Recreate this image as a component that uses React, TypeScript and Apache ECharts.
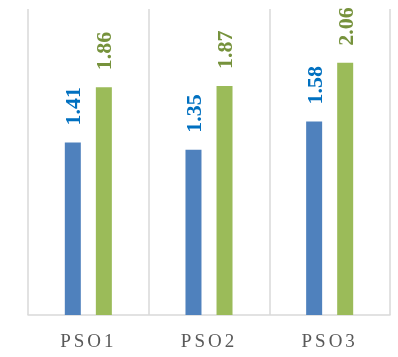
import React, { useEffect, useRef } from "react";
import * as echarts from "echarts";

const categories = ["PSO1", "PSO2", "PSO3"];
const seriesA = [1.41, 1.35, 1.58];
const seriesB = [1.86, 1.87, 2.06];

export default function App() {
  const ref = useRef<HTMLDivElement>(null);
  useEffect(() => {
    const chart = echarts.init(ref.current!, null, { renderer: "svg" });
    chart.setOption({
      animation: false,
      grid: { left: 28, right: 8, top: 9, bottom: 42 },
      xAxis: {
        type: "category",
        data: categories,
        axisLine: { show: true, lineStyle: { color: "#d9d9d9", width: 1.5 } },
        axisTick: { show: false },
        splitLine: { show: true, lineStyle: { color: "#d9d9d9", width: 1.5 } },
        axisLabel: {
          color: "#595959",
          fontFamily: "Liberation Serif",
          fontSize: 19,
          margin: 16,
        },
      },
      yAxis: {
        type: "value",
        min: 0,
        max: 2.5,
        show: false,
        splitLine: { show: false },
      },
      series: [
        {
          type: "bar",
          data: seriesA,
          barWidth: 16,
          barGap: "94%",
          itemStyle: { color: "#4F81BD" },
          label: {
            show: true,
            position: "top",
            rotate: 90,
            align: "left",
            verticalAlign: "middle",
            distance: 17,
            color: "#0070C0",
            fontFamily: "Liberation Serif",
            fontWeight: "bold",
            fontSize: 22,
          },
        },
        {
          type: "bar",
          data: seriesB,
          barWidth: 16,
          itemStyle: { color: "#9BBB59" },
          label: {
            show: true,
            position: "top",
            rotate: 90,
            align: "left",
            verticalAlign: "middle",
            distance: 17,
            color: "#76923C",
            fontFamily: "Liberation Serif",
            fontWeight: "bold",
            fontSize: 22,
            formatter: (p: any) => Number(p.value).toFixed(2),
          },
        },
      ],
    });
    return () => chart.dispose();
  }, []);
  return (
    <div style={{ position: "fixed", left: 0, top: 0 }}>
      <style>{`text[fill="#595959"], text[style*="595959"] { letter-spacing: 3px; }`}</style>
      <div ref={ref} style={{ width: 398, height: 357 }} />
    </div>
  );
}
